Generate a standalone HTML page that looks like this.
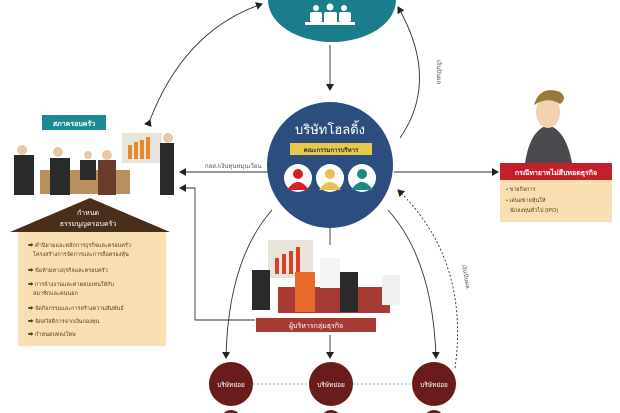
<!DOCTYPE html>
<html><head><meta charset="utf-8"><style>
html,body{margin:0;padding:0;background:#fff;}
svg{display:block;font-family:"Liberation Sans","Noto Sans CJK SC",sans-serif;}
</style></head><body>
<svg width="620" height="413" viewBox="0 0 620 413" xmlns="http://www.w3.org/2000/svg">
<defs>
<marker id="a" markerWidth="8" markerHeight="8" refX="6" refY="4" orient="auto" markerUnits="userSpaceOnUse"><path d="M0,0 L7,4 L0,8z" fill="#222"/></marker>
</defs>
<!-- top teal -->
<ellipse cx="332" cy="0" rx="64" ry="42" fill="#1b7c8c"/>
<g fill="#fff">
<circle cx="316" cy="8" r="3"/><circle cx="330" cy="7" r="3.5"/><circle cx="344" cy="8" r="3"/>
<rect x="310" y="12" width="12" height="10" rx="2"/><rect x="324" y="12" width="13" height="12" rx="2"/><rect x="339" y="12" width="12" height="10" rx="2"/>
<rect x="305" y="22" width="50" height="3"/>
</g>
<!-- lines -->
<g stroke="#333" stroke-width="0.9" fill="none">
<line x1="330" y1="45" x2="330" y2="90" marker-end="url(#a)"/>
<path d="M150,120 Q185,30 262,4" marker-end="url(#a)" marker-start="url(#a)"/>
<path d="M400,138 Q440,80 398,7" marker-end="url(#a)"/>
<line x1="394" y1="172" x2="498" y2="172" marker-end="url(#a)"/>
<line x1="268" y1="172" x2="180" y2="172" marker-end="url(#a)"/>
<polyline points="255,320 195,320 195,188 180,188" marker-end="url(#a)"/>
<path d="M272,210 Q228,260 226,358" marker-end="url(#a)"/>
<line x1="330" y1="228" x2="330" y2="245"/>
<line x1="330" y1="335" x2="330" y2="358" marker-end="url(#a)"/>
<path d="M388,210 Q433,260 436,358" marker-end="url(#a)"/>
<path d="M455,368 Q470,260 398,190" stroke-dasharray="2,2" marker-end="url(#a)"/>
<line x1="253" y1="384" x2="309" y2="384" stroke="#aaa" stroke-dasharray="2,2"/>
<line x1="353" y1="384" x2="412" y2="384" stroke="#aaa" stroke-dasharray="2,2"/>
</g>
<text x="437" y="60" font-size="6" fill="#555" transform="rotate(90 437 60)">เงินปันผล</text>
<text x="462" y="265" font-size="6" fill="#555" transform="rotate(80 462 265)">เงินปันผล</text>
<text x="205" y="168" font-size="6" fill="#555">กลส./เงินทุนหมุนเวียน</text>
<!-- holding -->
<circle cx="330" cy="165" r="63" fill="#2c4e7e"/>
<text x="330" y="134" font-size="13" fill="#fff" text-anchor="middle">บริษัทโฮลดิ้ง</text>
<rect x="290" y="143" width="82" height="12" fill="#e8c84a"/>
<text x="331" y="152" font-size="6" font-weight="bold" fill="#333" text-anchor="middle">คณะกรรมการบริหาร</text>
<circle cx="298" cy="178" r="14" fill="#fff"/><circle cx="330" cy="178" r="14" fill="#fff"/><circle cx="362" cy="178" r="14" fill="#fff"/>
<g><circle cx="298" cy="174" r="5" fill="#d81f26"/><path d="M287,190 Q298,174 309,190z" fill="#d81f26"/>
<circle cx="330" cy="174" r="5" fill="#e8c04a"/><path d="M319,190 Q330,174 341,190z" fill="#e8c04a"/>
<circle cx="362" cy="174" r="5" fill="#1e8a84"/><path d="M351,190 Q362,174 373,190z" fill="#1e8a84"/></g>
<!-- left family council -->
<rect x="42" y="115" width="64" height="15" fill="#1b8a96"/>
<text x="74" y="126" font-size="7" font-weight="bold" fill="#fff" text-anchor="middle">สภาครอบครัว</text>
<rect x="40" y="170" width="90" height="24" fill="#b89060"/>
<rect x="122" y="133" width="40" height="30" fill="#e8e4dc"/>
<g fill="#e88a2a"><rect x="128" y="145" width="4" height="14"/><rect x="134" y="142" width="4" height="17"/><rect x="140" y="140" width="4" height="19"/><rect x="146" y="137" width="4" height="22"/></g>
<g fill="#2a2a2a"><rect x="14" y="155" width="20" height="40"/><rect x="50" y="158" width="20" height="37"/><rect x="80" y="160" width="16" height="20"/><rect x="160" y="143" width="14" height="52"/></g>
<rect x="98" y="160" width="18" height="35" fill="#6a3a2a"/>
<g fill="#e8c8a8"><circle cx="22" cy="150" r="5"/><circle cx="58" cy="152" r="5"/><circle cx="88" cy="155" r="4"/><circle cx="107" cy="155" r="5"/><circle cx="168" cy="138" r="5"/></g>
<polygon points="10,232 90,198 170,232" fill="#4a2e1c"/>
<text x="88" y="215" font-size="7" fill="#fff" text-anchor="middle">กำหนด</text>
<text x="88" y="226" font-size="7" fill="#fff" text-anchor="middle">ธรรมนูญครอบครัว</text>
<rect x="18" y="232" width="148" height="114" fill="#f8dfb2"/>
<g font-size="5.5" fill="#5a3a1a">
<text x="28" y="247">➡ คำนิยามและหลักการธุรกิจและครอบครัว</text>
<text x="33" y="256">โครงสร้างการจัดการและการถือครองหุ้น</text>
<text x="28" y="272">➡ ข้อห้ามทางธุรกิจและครอบครัว</text>
<text x="28" y="286">➡ การจ้างงานและค่าตอบแทนให้กับ</text>
<text x="33" y="295">สมาชิกและคนนอก</text>
<text x="28" y="310">➡ จัดกิจกรรมและการสร้างความสัมพันธ์</text>
<text x="28" y="323">➡ จัดสวัสดิการจากเงินกองทุน</text>
<text x="28" y="336">➡ กำหนดบทลงโทษ</text>
</g>
<!-- right -->
<path d="M525,163 Q530,130 548,125 Q566,130 572,163z" fill="#4a4a4e"/>
<ellipse cx="548" cy="112" rx="12" ry="16" fill="#f2d2b0"/>
<path d="M534,105 Q540,85 560,92 Q568,98 560,104 Q548,96 534,105z" fill="#9a7a3a"/>
<rect x="500" y="163" width="112" height="17" fill="#c4202c"/>
<text x="556" y="175" font-size="7" font-weight="bold" fill="#fff" text-anchor="middle">กรณีทายาทไม่สืบทอดธุรกิจ</text>
<rect x="500" y="180" width="112" height="42" fill="#f8dfb2"/>
<g font-size="5.5" fill="#5a3a1a"><text x="506" y="191">• ขายกิจการ</text><text x="506" y="202">• เสนอขายหุ้นให้</text><text x="510" y="212">นักลงทุนทั่วไป (IPO)</text></g>
<!-- bottom meeting -->
<rect x="268" y="240" width="45" height="38" fill="#e8e4dc"/>
<g fill="#d8402a"><rect x="275" y="258" width="4" height="16"/><rect x="282" y="254" width="4" height="20"/><rect x="289" y="251" width="4" height="23"/><rect x="296" y="247" width="4" height="27"/></g>
<rect x="278" y="287" width="112" height="26" fill="#a83a36"/>
<g fill="#2a2a2a"><rect x="252" y="270" width="18" height="40"/><rect x="340" y="272" width="18" height="40"/><rect x="382" y="275" width="18" height="30" fill="#f0f0f0"/></g>
<rect x="295" y="272" width="20" height="40" fill="#e86a2a"/>
<rect x="320" y="258" width="20" height="30" fill="#f4f4f4"/>
<rect x="256" y="318" width="120" height="14" fill="#a83a36"/>
<text x="316" y="328" font-size="7" fill="#fff" text-anchor="middle">ผู้บริหารกลุ่มธุรกิจ</text>
<!-- subsidiaries -->
<g fill="#6a1c1c"><circle cx="231" cy="384" r="22"/><circle cx="331" cy="384" r="22"/><circle cx="434" cy="384" r="22"/>
<circle cx="231" cy="420" r="10"/><circle cx="331" cy="420" r="10"/><circle cx="434" cy="420" r="10"/></g>
<g font-size="6.5" fill="#fff" text-anchor="middle"><text x="231" y="387">บริษัทย่อย</text><text x="331" y="387">บริษัทย่อย</text><text x="434" y="387">บริษัทย่อย</text></g>
</svg>
</body></html>
